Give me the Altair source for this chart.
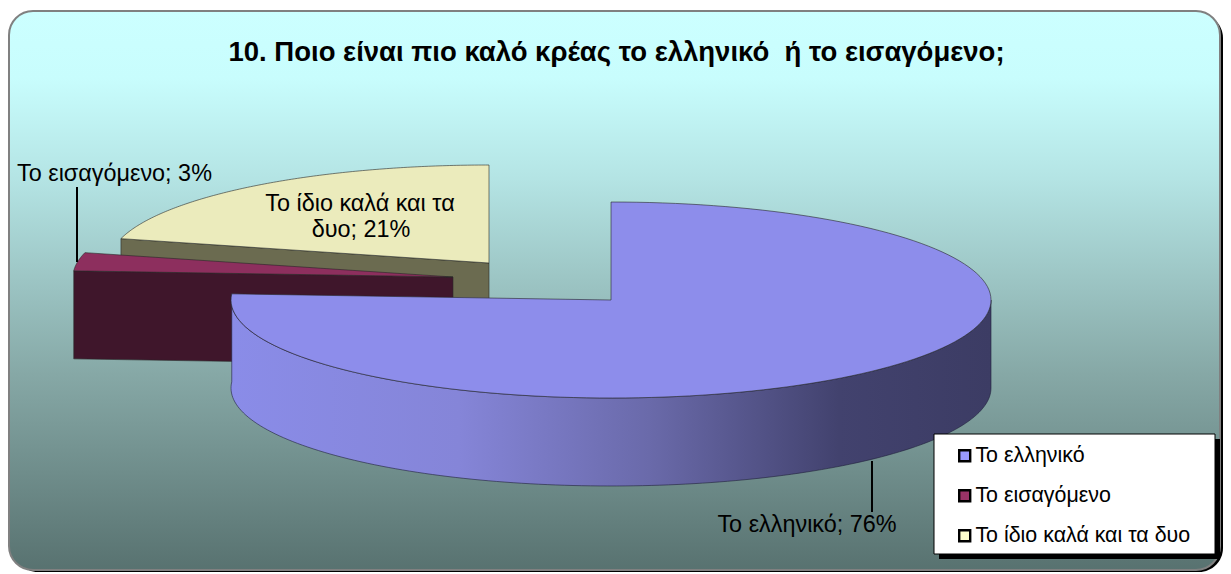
import math
import altair as alt

title_text = "10. Ποιο είναι πιο καλό κρέας το ελληνικό \u00a0ή το εισαγόμενο;"
categories = ["Το ελληνικό", "Το εισαγόμενο", "Το ίδιο καλά και τα δυο"]
shares = [76, 3, 21]
legend_colors = ["#9999ff", "#993366", "#ffffcc"]
wall_colors = [None, "#3f162b", "#6b6b50"]
# page-pixel centre of each (exploded) slice
centres = [(611, 300), (453, 277), (489, 263)]
slice_labels = [
    ("Το ελληνικό; 76%", 807, 525, "center"),
    ("Το εισαγόμενο; 3%", 17, 174, "left"),
    ("Το ίδιο καλά και τα", 360, 204, "center"),
    ("δυο; 21%", 361, 230, "center"),
]
RX, RY, DEPTH = 380, 98, 88
M = 8  # page margin


def pt(c, a, dy=0):
    r = math.radians(a)
    return [c[0] + RX * math.sin(r) - M, c[1] - RY * math.cos(r) + dy - M]


def arc(c, a0, a1, dy=0, n=140):
    return [pt(c, a0 + (a1 - a0) * i / n, dy) for i in range(n + 1)]


def feat(ring, cat=""):
    ring = ring + [ring[0]]
    return {"type": "Feature", "properties": {"cat": cat},
            "geometry": {"type": "Polygon", "coordinates": [ring]}}


bounds = []
a = 0.0
for s in shares:
    bounds.append((a, a + s * 3.6))
    a += s * 3.6

tops = []
for i in range(3):
    c = centres[i]
    v = [c[0] - M, c[1] - M]
    tops.append(feat([v] + arc(c, *bounds[i]), categories[i]))

# inner walls of the exploded slices
walls = {}
for i in (1, 2):
    c = centres[i]
    s = pt(c, bounds[i][0])
    e = pt(c, bounds[i][0], DEPTH)
    v = [c[0] - M, c[1] - M]
    walls[i] = feat([v, s, e, [v[0], v[1] + DEPTH]])

# outer rim of the main slice
rim = arc(centres[0], 90, bounds[0][1]) + arc(centres[0], 90, bounds[0][1], DEPTH)[::-1]
rim_feat = feat(rim)

proj = dict(type="identity", scale=1, translate=[0, 0])


def geo(features, **kw):
    return alt.Chart(alt.Data(values=features)).mark_geoshape(**kw).project(**proj)


W, H = 1215, 564
one = alt.Data(values=[{"a": 1}])

bg_shadow = alt.Chart(one).mark_rect(color="#000000", cornerRadius=24).encode(
    x=alt.value(6), x2=alt.value(1215), y=alt.value(6), y2=alt.value(564))
bg = alt.Chart(one).mark_rect(
    cornerRadius=24, stroke="#808080", strokeWidth=2,
    fill=alt.Gradient(gradient="linear", x1=0, y1=0, x2=0, y2=1, stops=[
        alt.GradientStop(offset=0, color="#ccffff"),
        alt.GradientStop(offset=0.12, color="#c8fdfd"),
        alt.GradientStop(offset=0.3, color="#b4e4e4"),
        alt.GradientStop(offset=0.65, color="#86a8a6"),
        alt.GradientStop(offset=1, color="#587270"),
    ])).encode(x=alt.value(1), x2=alt.value(1212), y=alt.value(3), y2=alt.value(562))

line_stroke = dict(stroke="#2a2a2a", strokeWidth=0.6)
wall_y = geo([walls[2]], fill=wall_colors[2], **line_stroke)
wall_m = geo([walls[1]], fill=wall_colors[1], **line_stroke)
rim_layer = geo([rim_feat], stroke="#20203a", strokeWidth=0.6, fill=alt.Gradient(
    gradient="linear", x1=0, y1=0, x2=1, y2=0, stops=[
        alt.GradientStop(offset=0, color="#8a8ce8"),
        alt.GradientStop(offset=0.3, color="#8585d8"),
        alt.GradientStop(offset=0.55, color="#6a6aaa"),
        alt.GradientStop(offset=0.8, color="#42426e"),
        alt.GradientStop(offset=1, color="#3c3c64"),
    ]))

color = alt.Color("properties.cat:N", scale=alt.Scale(domain=categories, range=legend_colors),
                  sort=categories,
                  legend=alt.Legend(
                      title=None, orient="none", legendX=946, legendY=437, padding=0,
                      symbolType="square", symbolSize=121, symbolStrokeColor="#000000",
                      symbolStrokeWidth=2.4, symbolOpacity=1,
                      labelFont="Liberation Sans", labelFontSize=21.4, labelColor="#000000",
                      labelLimit=300, rowPadding=17, labelOffset=0))


def top(i):
    return geo([tops[i]], **line_stroke).encode(color=color)


def shade(i):
    return geo([tops[i]], fill="#000000", fillOpacity=0.08, strokeOpacity=0)


rules = [
    alt.Chart(one).mark_rule(color="#000000", strokeWidth=2).encode(
        x=alt.value(x - M), y=alt.value(y0 - M), y2=alt.value(y1 - M))
    for x, y0, y1 in [(77, 187, 262), (872, 461, 512)]
]

labels = [
    alt.Chart(alt.Data(values=[{"t": t}])).mark_text(
        font="Liberation Sans", fontSize=23.4, color="#000000", align=al, baseline="middle"
    ).encode(text="t:N", x=alt.value(x - M), y=alt.value(y - M))
    for t, x, y, al in slice_labels
]

legend_shadow = alt.Chart(one).mark_rect(color="#000000").encode(
    x=alt.value(931), x2=alt.value(1212), y=alt.value(431), y2=alt.value(551))
legend_box = alt.Chart(one).mark_rect(color="#ffffff", stroke="#000000", strokeWidth=1).encode(
    x=alt.value(926), x2=alt.value(1207), y=alt.value(426), y2=alt.value(546))

chart = alt.layer(
    bg_shadow, bg, wall_y, top(2), shade(2), wall_m, top(1), shade(1),
    rim_layer, top(0), shade(0), *rules, *labels, legend_shadow, legend_box,
).properties(
    width=W, height=H, padding=0, autosize=alt.AutoSizeParams(type="none"),
    title=alt.TitleParams(title_text, font="Liberation Sans", fontSize=27.5, fontWeight="bold",
                          color="#000000", anchor="middle", frame="group", offset=0, dy=72,
                          dx=1, baseline="middle"),
).configure_view(stroke=None)

chart.save("out.html", embed_options={"renderer": "svg", "actions": False})
